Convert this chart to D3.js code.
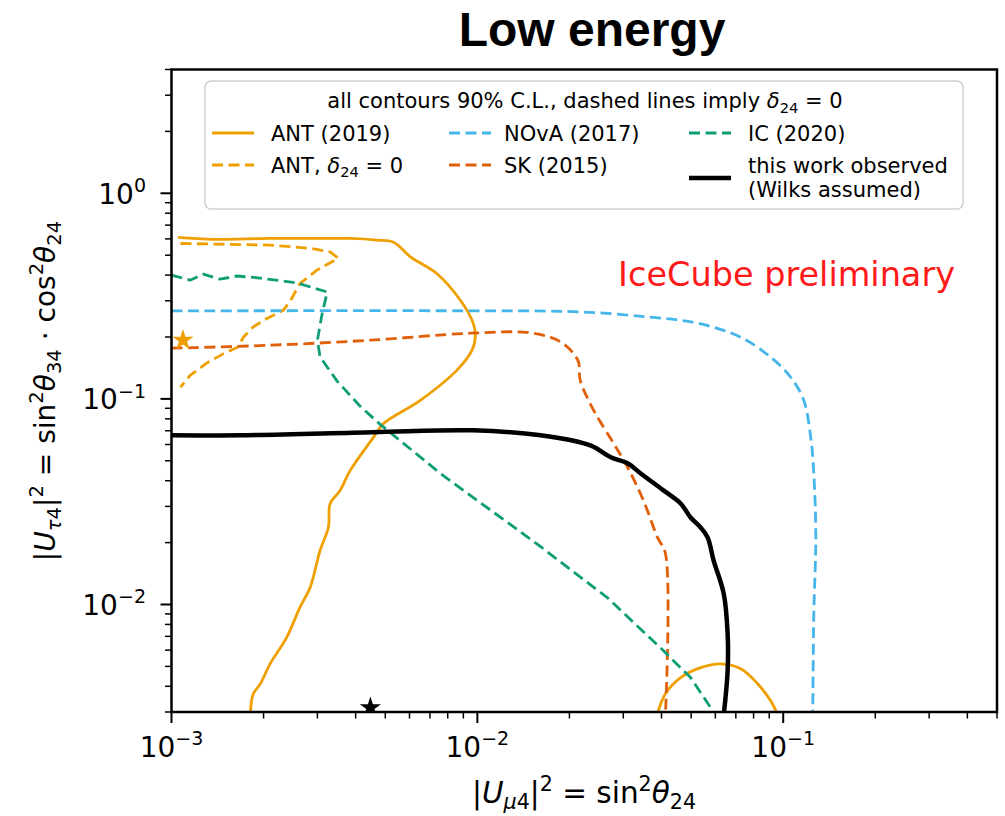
<!DOCTYPE html>
<html>
<head>
<meta charset="utf-8">
<script src="https://cdn.jsdelivr.net/npm/d3@7"></script>
<style>
  body { margin: 0; background: #fff; }
  svg { display: block; }
  text { font-family: "DejaVu Sans", sans-serif; fill: #000; }
</style>
</head>
<body>
<svg id="fig" width="1005" height="816"></svg>
<script>
// ---- axis ranges and ticks ----
const xDomain = [1e-3, 0.5];
const yDomain = [3e-3, 4];
const xMajorTicks = [1e-3, 1e-2, 1e-1];
const yMajorTicks = [1e-2, 1e-1, 1];
const xTickExponents = ["−3", "−2", "−1"];
const yTickExponents = ["−2", "−1", "0"];

// ---- 90% C.L. contours: [|U_mu4|^2, |U_tau4|^2] ----
const antContour = [[0.00105,0.610],[0.00137,0.597],[0.0021,0.603],[0.00306,0.603],[0.00384,0.603],
  [0.0047,0.592],[0.00532,0.578],[0.00604,0.491],[0.00738,0.406],[0.0088,0.302],[0.00961,0.241],
  [0.00985,0.204],[0.00961,0.1725],[0.00858,0.138],[0.00651,0.0984],[0.00493,0.0758],[0.00458,0.0652],
  [0.00384,0.0449],[0.00356,0.0359],[0.0033,0.0309],[0.00326,0.0238],[0.00306,0.0183],[0.00284,0.0121],
  [0.00263,0.00969],[0.00238,0.00692],[0.0021,0.00514],[0.00195,0.0041],[0.00185,0.00367],[0.00181,0.0029]];
const antIsland = [[0.0387,0.0029],[0.0412,0.00368],[0.0462,0.00441],[0.0537,0.00493],[0.0625,0.00514],
  [0.0726,0.00487],[0.0825,0.00412],[0.0910,0.0034],[0.0960,0.0029]];
const antDelta0 = [[0.00107,0.570],[0.0021,0.560],[0.00284,0.540],[0.0033,0.519],[0.00351,0.483],
  [0.00299,0.423],[0.00263,0.364],[0.00254,0.332],[0.00244,0.297],[0.00232,0.270],[0.00205,0.246],
  [0.00185,0.224],[0.00172,0.200],[0.00165,0.179],[0.00148,0.166],[0.0013,0.149],[0.00115,0.130],[0.00107,0.114]];
const novaContour = [[0.001,0.268],[0.0102,0.268],[0.0217,0.265],[0.036,0.2505],[0.0525,0.2334],
  [0.0726,0.1995],[0.0910,0.1595],[0.1058,0.1274],[0.1167,0.0984],[0.123,0.065],[0.1259,0.0434],
  [0.1278,0.0212],[0.1259,0.00903],[0.1249,0.0029]];
const skContour = [[0.001,0.1764],[0.0021,0.1824],[0.00447,0.1929],[0.00949,0.2087],[0.0149,0.2094],
  [0.0187,0.1893],[0.0213,0.1542],[0.0217,0.1232],[0.024,0.088],[0.0279,0.0608],[0.031,0.0464],
  [0.0349,0.0321],[0.0388,0.0212],[0.0412,0.0177],[0.0412,0.0029]];
const icContour = [[0.001,0.400],[0.00115,0.378],[0.00127,0.404],[0.00144,0.382],[0.00164,0.396],
  [0.00195,0.387],[0.00258,0.366],[0.00323,0.331],[0.00311,0.261],[0.003,0.193],[0.00306,0.160],
  [0.00348,0.122],[0.00414,0.092],[0.00481,0.0752],[0.00757,0.0434],[0.0161,0.0191],[0.0266,0.0108],
  [0.0406,0.00596],[0.0498,0.00441],[0.0579,0.00315],[0.0592,0.0029]];
const thisWork = [[0.001,0.0665],[0.00168,0.0665],[0.00457,0.0688],[0.0097,0.0703],[0.0161,0.0665],
  [0.0234,0.0594],[0.0273,0.0520],[0.031,0.0486],[0.0342,0.0434],[0.0406,0.0359],[0.0462,0.031],
  [0.0498,0.0265],[0.0537,0.0237],[0.0566,0.0212],[0.0592,0.0164],[0.0639,0.0113],[0.0658,0.00722],
  [0.0658,0.00476],[0.0639,0.0029]];
// best-fit points
const antBestFit = [0.00109, 0.193];
const thisWorkBestFit = [0.00447, 0.00315];

const colors = { ant: "#EFA000", nova: "#45B6EA", sk: "#E0600A", ic: "#0E9E76", ours: "#000" };

const svg = d3.select("#fig");
const W = 1005, H = 816;
const plot = { left: 171.5, right: 997, top: 69.5, bottom: 712 };

const x = d3.scaleLog().domain(xDomain).range([plot.left, plot.right]);
const y = d3.scaleLog().domain(yDomain).range([plot.bottom, plot.top]);

svg.append("rect").attr("width", W).attr("height", H).attr("fill", "#fff");

// Title
svg.append("text").attr("x", 592).attr("y", 46).attr("text-anchor", "middle")
  .style("font-family", "'Liberation Sans', Arial, sans-serif").style("font-weight", "bold")
  .style("font-size", "48px").text("Low energy");

// clip region
svg.append("clipPath").attr("id", "plotclip").append("rect")
  .attr("x", plot.left).attr("y", plot.top)
  .attr("width", plot.right - plot.left).attr("height", plot.bottom - plot.top);

const g = svg.append("g").attr("clip-path", "url(#plotclip)");

const smooth = d3.line().x(d => x(d[0])).y(d => y(d[1])).curve(d3.curveCatmullRom.alpha(0.5));
const straight = d3.line().x(d => x(d[0])).y(d => y(d[1]));
const dash = "11,5.5";

function curve(data, gen, color, width, dashed) {
  g.append("path").attr("d", gen(data)).attr("fill", "none")
    .attr("stroke", color).attr("stroke-width", width)
    .attr("stroke-dasharray", dashed ? dash : null)
    .attr("stroke-linejoin", "round");
}

curve(antContour, smooth, colors.ant, 2.8, false);
curve(antIsland, smooth, colors.ant, 2.8, false);
curve(antDelta0, straight, colors.ant, 2.8, true);
curve(novaContour, smooth, colors.nova, 2.8, true);
curve(skContour, smooth, colors.sk, 2.8, true);
curve(icContour, straight, colors.ic, 2.8, true);
curve(thisWork, smooth, colors.ours, 4.5, false);

const star = d3.symbol().type(d3.symbolStar).size(140);
g.append("path").attr("d", star())
  .attr("transform", `translate(${x(antBestFit[0])},${y(antBestFit[1])})`).attr("fill", colors.ant);
g.append("path").attr("d", star())
  .attr("transform", `translate(${x(thisWorkBestFit[0])},${y(thisWorkBestFit[1])})`).attr("fill", "#000");

// IceCube preliminary label
svg.append("text").attr("x", 955).attr("y", 286).attr("text-anchor", "end")
  .style("font-size", "33.5px").style("fill", "#ff1a1a").text("IceCube preliminary");

// ---- axes ----
const minorTicks = (dom) => {
  const out = [];
  for (let e = -4; e <= 1; e++) for (let m = 2; m <= 9; m++) {
    const v = m * Math.pow(10, e);
    if (v >= dom[0] * 0.999 && v <= dom[1] * 1.001) out.push(v);
  }
  return out;
};

const axes = svg.append("g");
// x ticks
axes.selectAll(".xmaj").data(xMajorTicks).join("line")
  .attr("x1", d => x(d)).attr("x2", d => x(d)).attr("y1", plot.bottom).attr("y2", plot.bottom + 11)
  .attr("stroke", "#000").attr("stroke-width", 2);
axes.selectAll(".xmin").data(minorTicks(xDomain)).join("line")
  .attr("x1", d => x(d)).attr("x2", d => x(d)).attr("y1", plot.bottom).attr("y2", plot.bottom + 6.5)
  .attr("stroke", "#000").attr("stroke-width", 1.5);
// y ticks
axes.selectAll(".ymaj").data(yMajorTicks).join("line")
  .attr("y1", d => y(d)).attr("y2", d => y(d)).attr("x1", plot.left).attr("x2", plot.left - 11)
  .attr("stroke", "#000").attr("stroke-width", 2);
axes.selectAll(".ymin").data(minorTicks(yDomain)).join("line")
  .attr("y1", d => y(d)).attr("y2", d => y(d)).attr("x1", plot.left).attr("x2", plot.left - 6.5)
  .attr("stroke", "#000").attr("stroke-width", 1.5);

const tickFs = 28;
function powerLabel(sel, exp) {
  sel.append("tspan").text("10");
  sel.append("tspan").attr("dy", -0.42 * tickFs).style("font-size", (0.68 * tickFs) + "px").text(exp);
}
xMajorTicks.forEach((v, i) => {
  const t = axes.append("text").attr("x", x(v)).attr("y", 757).attr("text-anchor", "middle")
    .style("font-size", tickFs + "px");
  powerLabel(t, xTickExponents[i]);
});
yMajorTicks.forEach((v, i) => {
  const t = axes.append("text").attr("x", 146).attr("y", y(v) + 10.5).attr("text-anchor", "end")
    .style("font-size", tickFs + "px");
  powerLabel(t, yTickExponents[i]);
});

// frame
axes.append("rect").attr("x", plot.left).attr("y", plot.top)
  .attr("width", plot.right - plot.left).attr("height", plot.bottom - plot.top)
  .attr("fill", "none").attr("stroke", "#000").attr("stroke-width", 2.5);

// math-like text: parts are [string, kind], kind in n, i, sub, subi, sup
function mathText(t, parts, fs) {
  let off = 0;
  parts.forEach(([s, kind]) => {
    const small = kind.startsWith("sub") || kind.startsWith("sup");
    const target = kind.startsWith("sub") ? 0.22 * fs : kind.startsWith("sup") ? -0.42 * fs : 0;
    const ts = t.append("tspan").text(s);
    if (target !== off) ts.attr("dy", target - off);
    off = target;
    ts.style("font-size", (small ? 0.7 * fs : fs) + "px");
    if (kind === "i" || kind === "subi") ts.style("font-style", "italic");
  });
}

const labFs = 29.5;
const xl = svg.append("text").attr("x", 584).attr("y", 803).attr("text-anchor", "middle")
  .style("font-size", labFs + "px");
mathText(xl, [["|", "n"], ["U", "i"], ["μ", "subi"], ["4", "sub"], ["|", "n"], ["2", "sup"],
  [" = sin", "n"], ["2", "sup"], ["θ", "i"], ["24", "sub"]], labFs);

const yl = svg.append("text").attr("transform", "translate(55,391) rotate(-90)")
  .attr("text-anchor", "middle").style("font-size", "28px");
mathText(yl, [["|", "n"], ["U", "i"], ["τ", "subi"], ["4", "sub"], ["|", "n"], ["2", "sup"],
  [" = sin", "n"], ["2", "sup"], ["θ", "i"], ["34", "sub"], [" · cos", "n"], ["2", "sup"],
  ["θ", "i"], ["24", "sub"]], 28);

// ---- legend ----
const legFs = 21;
const leg = svg.append("g");
leg.append("rect").attr("x", 205).attr("y", 81).attr("width", 758).attr("height", 128)
  .attr("rx", 6).attr("fill", "#fff").attr("fill-opacity", 0.85)
  .attr("stroke", "#d0d0d0").attr("stroke-width", 1.5);
const lt = leg.append("text").attr("x", 585).attr("y", 108).attr("text-anchor", "middle")
  .style("font-size", legFs + "px");
mathText(lt, [["all contours 90% C.L., dashed lines imply ", "n"], ["δ", "i"], ["24", "sub"], [" = 0", "n"]], legFs);

const legendEntries = [
  { col: 0, cy: 133, color: colors.ant, w: 2.8, dashed: false, label: [["ANT (2019)", "n"]] },
  { col: 0, cy: 165, color: colors.ant, w: 2.8, dashed: true, label: [["ANT, ", "n"], ["δ", "i"], ["24", "sub"], [" = 0", "n"]] },
  { col: 1, cy: 133, color: colors.nova, w: 2.8, dashed: true, label: [["NOvA (2017)", "n"]] },
  { col: 1, cy: 165, color: colors.sk, w: 2.8, dashed: true, label: [["SK (2015)", "n"]] },
  { col: 2, cy: 133, color: colors.ic, w: 2.8, dashed: true, label: [["IC (2020)", "n"]] },
  { col: 2, cy: 165, color: "#000", w: 4.5, dashed: false, label: [["this work observed", "n"]], line2: "(Wilks assumed)", handleY: 178 }
];
const colHandle = [212, 449, 689];
const colText = [271, 504, 748];
legendEntries.forEach(e => {
  const hy = e.handleY || e.cy;
  leg.append("line").attr("x1", colHandle[e.col]).attr("x2", colHandle[e.col] + 42)
    .attr("y1", hy).attr("y2", hy).attr("stroke", e.color).attr("stroke-width", e.w)
    .attr("stroke-dasharray", e.dashed ? dash : null);
  const t = leg.append("text").attr("x", colText[e.col]).attr("y", e.cy + 7.5).style("font-size", legFs + "px");
  mathText(t, e.label, legFs);
  if (e.line2) {
    leg.append("text").attr("x", colText[e.col]).attr("y", e.cy + 7.5 + 24).style("font-size", legFs + "px").text(e.line2);
  }
});
</script>
</body>
</html>
